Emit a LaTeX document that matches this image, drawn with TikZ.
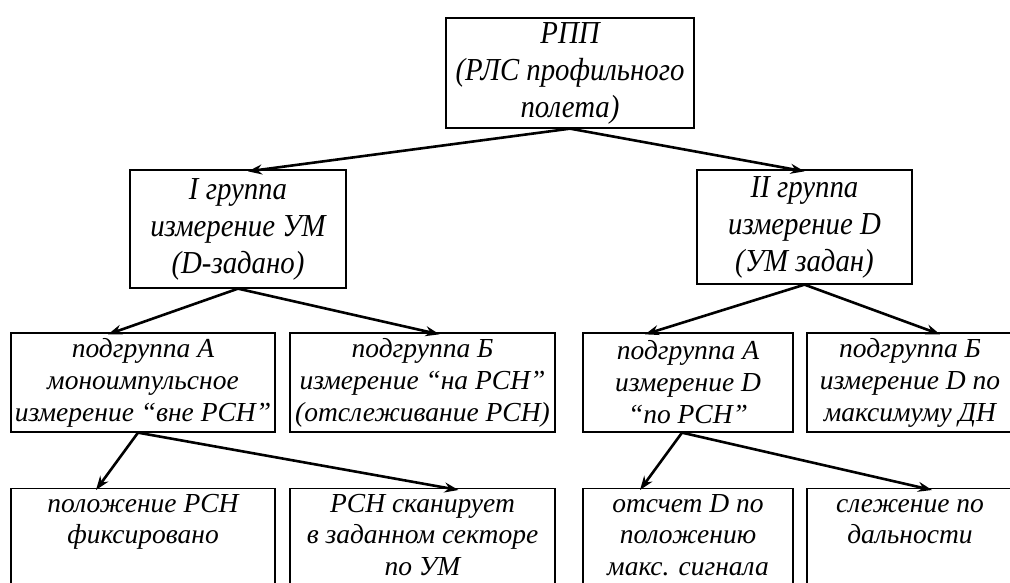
\documentclass[tikz,border=0pt]{standalone}
\usepackage{fontspec}
\setmainfont{Liberation Serif}
\newfontfamily\condserif[FakeStretch=0.9]{Liberation Serif}
\usepackage{tikz}
\usetikzlibrary{arrows.meta, positioning}
\tikzset{topbox/.style={rectangle,draw,line width=1.3pt,align=center,inner sep=0pt,font=\condserif\itshape\fontsize{32}{37}\selectfont},
         subbox/.style={rectangle,draw,line width=1.3pt,align=center,inner sep=0pt,font=\itshape\fontsize{27.5}{32}\selectfont},
         leafbox/.style={rectangle,draw,line width=1.3pt,anchor=north,minimum height=130pt},
         leaftext/.style={anchor=north,align=center,inner sep=0pt,yshift=-2pt,font=\itshape\fontsize{27.5}{31.5}\selectfont},
         arrow/.style={-{Stealth[length=14pt,width=10pt]},line width=2.6pt}}
\begin{document}
\begin{tikzpicture}[x=1pt,y=-1pt]
    \useasboundingbox (0,0) rectangle (1010,583);
    % Root
    \node (rpp) at (570,73) [topbox,minimum width=248pt,minimum height=110pt]{РПП\\(РЛС профильного\\полета)};
    % Groups
    \node (g1) at (238,229) [topbox,minimum width=216pt,minimum height=118pt]{I группа\\измерение УМ\\(D-задано)};
    \node (g2) at (804.5,227) [topbox,minimum width=215pt,minimum height=114pt]{II группа\\измерение D\\(УМ задан)};
    % Subgroups
    \node (sA1) at (143,382.5) [subbox,minimum width=264pt,minimum height=99pt]{подгруппа А\\моноимпульсное\\измерение “вне РСН”};
    \node (sB1) at (422.5,382.5) [subbox,minimum width=265pt,minimum height=99pt]{подгруппа Б\\измерение “на РСН”\\(отслеживание РСН)};
    \node (sA2) at (688,382.5) [subbox,minimum width=210pt,minimum height=99pt]{подгруппа А\\измерение D\\“по РСН”};
    \node (sB2) at (910,382.5) [subbox,minimum width=206pt,minimum height=99pt]{подгруппа Б\\измерение D по\\максимуму ДН};
    % Leaves
    \node (l1) at (143,488) [leafbox,minimum width=264pt,label={[leaftext]north:{\strut положение РСН\\фиксировано}}]{};
    \node (l2) at (422.5,488) [leafbox,minimum width=265pt,label={[leaftext]north:{\strut РСН сканирует\\в заданном секторе\\по УМ}}]{};
    \node (l3) at (688,488) [leafbox,minimum width=210pt,label={[leaftext]north:{\strut отсчет D по\\положению\\макс. сигнала}}]{};
    \node (l4) at (910,488) [leafbox,minimum width=206pt,label={[leaftext]north:{\strut слежение по\\дальности}}]{};
    % Arrows
    \draw[arrow] (rpp.south) -- ([xshift=10pt,yshift=-2pt]g1.north);
    \draw[arrow] (rpp.south) -- ([yshift=-2pt]g2.north);
    \draw[arrow] (g1.south) -- ([xshift=-35pt,yshift=-2pt]sA1.north);
    \draw[arrow] (g1.south) -- ([xshift=17pt,yshift=-2pt]sB1.north);
    \draw[arrow] (g2.south) -- ([xshift=-43pt,yshift=-2pt]sA2.north);
    \draw[arrow] (g2.south) -- ([xshift=30pt,yshift=-2pt]sB2.north);
    \draw[arrow] ([xshift=-5pt]sA1.south) -- ([xshift=-47pt,yshift=-2pt]l1.north);
    \draw[arrow] ([xshift=-5pt]sA1.south) -- ([xshift=36pt,yshift=-2pt]l2.north);
    \draw[arrow] ([xshift=-6pt]sA2.south) -- ([xshift=-48pt,yshift=-2pt]l3.north);
    \draw[arrow] ([xshift=-6pt]sA2.south) -- ([xshift=22pt,yshift=-2pt]l4.north);
\end{tikzpicture}
\end{document}
